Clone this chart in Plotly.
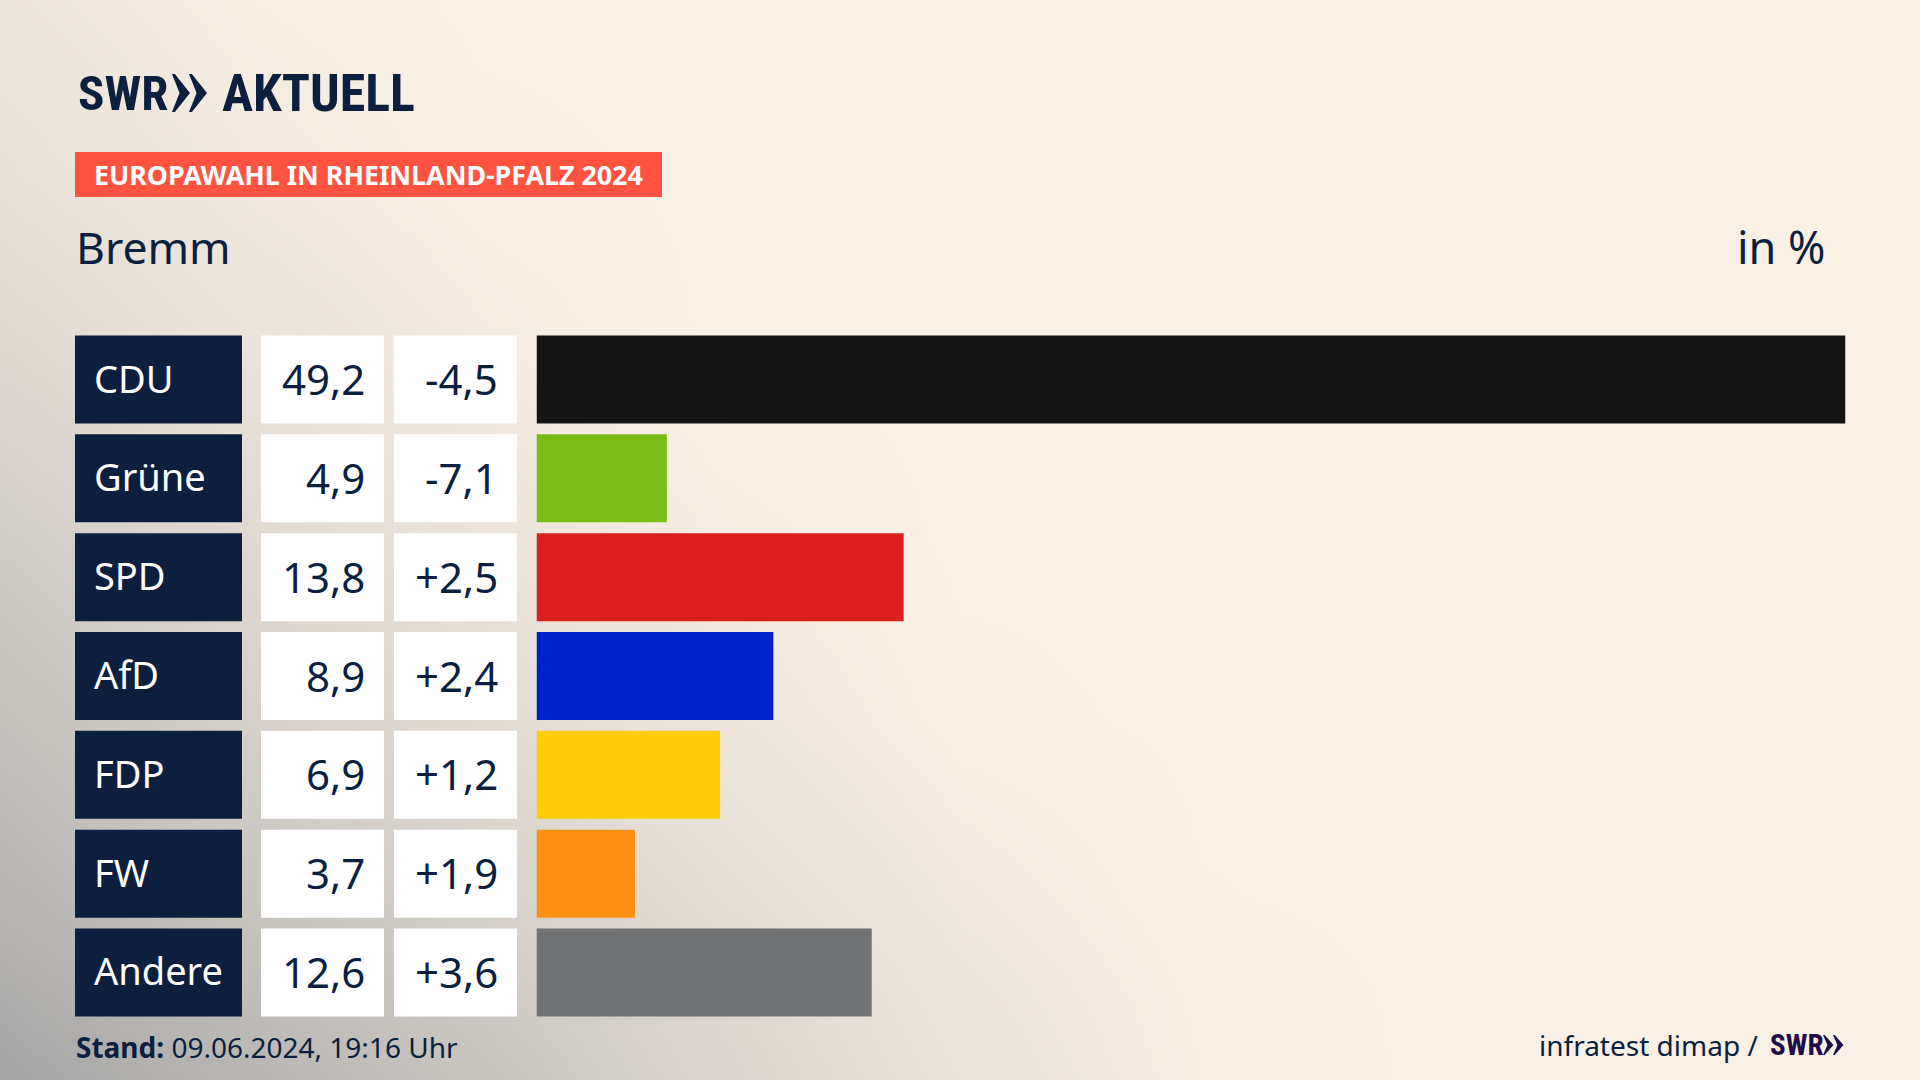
import plotly.graph_objects as go

# chart values
parties = ["CDU", "Grüne", "SPD", "AfD", "FDP", "FW", "Andere"]
shares = [49.2, 4.9, 13.8, 8.9, 6.9, 3.7, 12.6]
changes = ["-4,5", "-7,1", "+2,5", "+2,4", "+1,2", "+1,9", "+3,6"]
bar_colors = ["#141414", "#7abd17", "#d9201e", "#0022cc", "#ffce08", "#ff8f14", "#707274"]

# background tint (0 = cream, 1 = grey corner)
bg_x = [0, 240, 480, 720, 960, 1200, 1440, 1920]
bg_y = [0, 180, 360, 540, 720, 900, 1000, 1080]
bg_z = [
    [0.14, 0.04, 0.00, 0.00, 0.00, 0.00, 0.00, 0.00],
    [0.22, 0.10, 0.02, 0.00, 0.00, 0.00, 0.00, 0.00],
    [0.34, 0.20, 0.08, 0.00, 0.00, 0.00, 0.00, 0.00],
    [0.50, 0.32, 0.18, 0.06, 0.00, 0.00, 0.00, 0.00],
    [0.64, 0.46, 0.30, 0.14, 0.02, 0.00, 0.00, 0.00],
    [0.80, 0.60, 0.44, 0.26, 0.10, 0.01, 0.00, 0.00],
    [0.92, 0.72, 0.54, 0.34, 0.15, 0.03, 0.00, 0.00],
    [1.00, 0.80, 0.60, 0.38, 0.18, 0.04, 0.00, 0.00],
]

NAVY = "#0c1f3f"
PURPLE = "#1f0d4a"
FONT = "Noto Sans"
LOGO_FONT = "Roboto Condensed"
W, H = 1920, 1080


def px(x):
    return x / W


def py(y):
    return 1 - y / H


def chevron(x, top, bottom, w, color):
    mid = (top + bottom) / 2
    t = w * 0.16
    pts = [(x, top), (x + t, top), (x + w, mid), (x + t, bottom), (x, bottom), (x + w * 0.42, mid)]
    path = "M" + " L".join(f"{px(a):.5f},{py(b):.5f}" for a, b in pts) + " Z"
    return dict(type="path", xref="paper", yref="paper", path=path, fillcolor=color, line_width=0)


fig = go.Figure()

fig.add_trace(go.Heatmap(x=bg_x, y=bg_y, z=bg_z, zmin=0, zmax=1, zsmooth="best", showscale=False,
                         hoverinfo="skip",
                         colorscale=[[0, "#faf1e6"], [1, "#a6a6a6"]],
                         xaxis="x", yaxis="y"))

fig.add_trace(go.Bar(y=parties, x=shares, orientation="h", width=0.89,
                     marker=dict(color=bar_colors, line_width=0),
                     xaxis="x2", yaxis="y2", showlegend=False))

shapes = []
annotations = []


def text(x, y, s, size, anchor="left", color=NAVY, family=FONT, yref="paper", yshift=0):
    yy = py(y) if yref == "paper" else y
    annotations.append(dict(x=px(x), y=yy, xref="paper", yref=yref, text=s, showarrow=False,
                            xanchor=anchor, yanchor="middle", align=anchor, yshift=yshift,
                            font=dict(size=size, color=color, family=family)))


# party rows
for i, name in enumerate(parties):
    for x0, x1, fill in [(75, 242, NAVY), (261, 384, "#ffffff"), (394, 517, "#ffffff")]:
        shapes.append(dict(type="rect", xref="paper", yref="y2", x0=px(x0), x1=px(x1),
                           y0=i - 0.445, y1=i + 0.445, fillcolor=fill, line_width=0))
    text(91.5, i, name, 38, color="#ffffff", yref="y2", yshift=2)
    text(367, i, f"{shares[i]:.1f}".replace(".", ","), 42, anchor="right", yref="y2", yshift=1)
    text(500, i, changes[i], 42, anchor="right", yref="y2", yshift=1)

# header
shapes.append(dict(type="rect", xref="paper", yref="paper", x0=px(75), x1=px(662),
                   y0=py(197), y1=py(152), fillcolor="#ff5240", line_width=0))
text(91.5, 175, "<b>EUROPAWAHL IN RHEINLAND-PFALZ 2024</b>", 26.8, color="#ffffff")
text(74, 246.5, "Bremm", 44.5)
text(1828, 246.5, "in %", 45, anchor="right")

# logo
text(76, 93, "<b>SWR</b>", 49, family=LOGO_FONT)
shapes.append(chevron(172, 74, 112, 18, NAVY))
shapes.append(chevron(189, 74, 112, 18, NAVY))
text(220, 93, "<b>AKTUELL</b>", 52, family=LOGO_FONT)

# footer
text(74, 1047, "<b>Stand:</b> 09.06.2024, 19:16 Uhr", 28)
text(1760, 1045, "infratest dimap /", 28, anchor="right")
text(1768, 1045, "<b>SWR</b>", 29, color=PURPLE, family=LOGO_FONT)
shapes.append(chevron(1823, 1035, 1055, 10.5, PURPLE))
shapes.append(chevron(1833, 1035, 1055, 10.5, PURPLE))

hidden = dict(visible=False, fixedrange=True)
fig.update_layout(
    width=W, height=H, autosize=False,
    margin=dict(l=0, r=0, t=0, b=0, pad=0),
    paper_bgcolor="#faf1e6", plot_bgcolor="rgba(0,0,0,0)",
    showlegend=False,
    xaxis=dict(domain=[0, 1], range=[0, W], **hidden),
    yaxis=dict(domain=[0, 1], range=[H, 0], **hidden),
    xaxis2=dict(domain=[px(536.5), px(1845.5)], range=[0, 49.2], anchor="y2", **hidden),
    yaxis2=dict(domain=[py(1021.9), py(330.1)], range=[6.5, -0.5], anchor="x2", type="category", **hidden),
    shapes=shapes, annotations=annotations,
)

fig.write_html("out.html", config=dict(displayModeBar=False),
               post_script="document.body.style.margin='0';document.body.style.overflow='hidden';")
